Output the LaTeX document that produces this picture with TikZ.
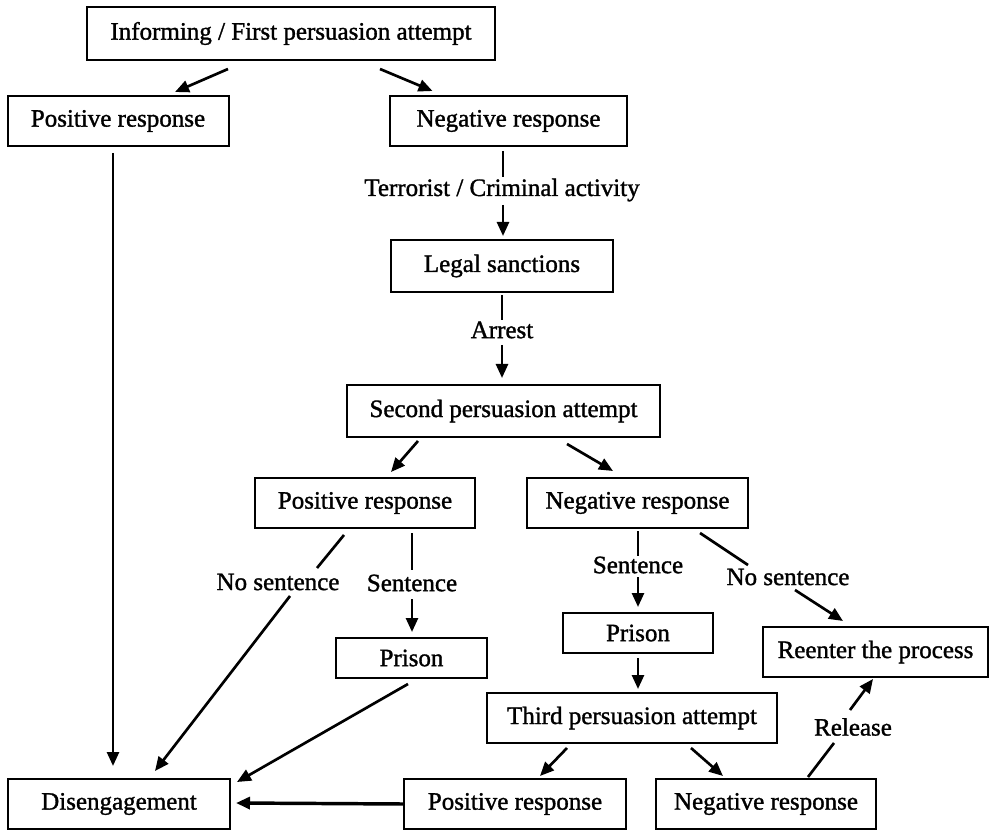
\documentclass[tikz,border=0pt]{standalone}
\usepackage{fontspec}
\setmainfont{Liberation Serif}
\newfontfamily\boxfont{Liberation Serif}[FakeBold=1.3]
\usetikzlibrary{calc,positioning,arrows.meta}

\begin{document}
\begin{tikzpicture}[x=0.75pt,y=-0.75pt]
\tikzstyle{box}=[rectangle, draw, line width=1.5pt, inner sep=0pt, font=\boxfont\fontsize{18.75}{22}\selectfont]
\tikzstyle{lbl}=[inner sep=1pt, font=\boxfont\fontsize{18.75}{22}\selectfont]
\tikzstyle{seg}=[line width=2pt]
\tikzstyle{arr}=[seg, -{Triangle[length=10.5pt,width=9pt]}]
\tikzset{wh/.style 2 args={minimum width=#1*0.75pt, minimum height=#2*0.75pt}}

\useasboundingbox (0,0) rectangle (989,830);

% boxes
\node[box, wh={408}{53}] (inform) at (291,33.5) {Informing / First persuasion attempt};
\node[box, wh={221}{50}] (pos1) at (118,121) {Positive response};
\node[box, wh={237}{50}] (neg1) at (508.5,121) {Negative response};
\node[box, wh={222}{52}] (legal) at (502,266) {Legal sanctions};
\node[box, wh={313}{52}] (second) at (503.5,411) {Second persuasion attempt};
\node[box, wh={220}{50}] (pos2) at (365,503) {Positive response};
\node[box, wh={221}{50}] (neg2) at (637.5,503) {Negative response};
\node[box, wh={151}{40}] (prison1) at (411.5,658) {Prison};
\node[box, wh={150}{40}] (prison2) at (638,633) {Prison};
\node[box, wh={225}{50}] (reenter) at (875.5,652) {Reenter the process};
\node[box, wh={290}{50}] (third) at (632,718) {Third persuasion attempt};
\node[box, wh={222}{50}] (diseng) at (119,804) {Disengagement};
\node[box, wh={222}{50}] (pos3) at (515,804) {Positive response};
\node[box, wh={220}{50}] (neg3) at (766,804) {Negative response};

% labels
\node[lbl] (terr) at (502,190) {Terrorist / Criminal activity};
\node[lbl] (arrest) at (502,330) {Arrest};
\node[lbl] (nosent1) at (278,582) {No sentence};
\node[lbl] (sent1) at (412,583) {Sentence};
\node[lbl] (sent2) at (638,565) {Sentence};
\node[lbl] (nosent2) at (788,577) {No sentence};
\node[lbl] (release) at (853,727) {Release};

% first level
\draw[arr] ($(inform.south)+(-63,8)$) -- ($(pos1.north)+(57,-3)$);
\draw[arr] ($(inform.south)+(89,8)$) -- ($(neg1.north)+(-76,-4)$);
\draw[arr] ($(pos1.south)+(-5,6)$) -- ($(diseng.north)+(-6,-12)$);
\draw[seg] ($(neg1.south)+(-5.5,4)$) -- ($(terr)+(1,-13)$);
\draw[arr] ($(terr)+(1,15)$) -- ($(legal.north)+(1,-3)$);
\draw[seg] ($(legal.south)+(0,2)$) -- ($(arrest)+(0,-10)$);
\draw[arr] ($(arrest)+(0,15)$) -- ($(second.north)+(-1.5,-6)$);
\draw[arr] ($(second.south)+(-85.5,3)$) -- ($(pos2.north)+(26,-5)$);
\draw[arr] ($(second.south)+(63.5,6)$) -- ($(neg2.north)+(-24.5,-6)$);

% after second attempt
\draw[seg] ($(pos2.south)+(-21,6)$) -- ($(nosent1)+(39,-14)$);
\draw[arr] ($(nosent1)+(12,14)$) -- ($(diseng.north)+(36,-7)$);
\draw[seg] ($(pos2.south)+(47,4)$) -- ($(sent1)+(0,-13)$);
\draw[arr] ($(sent1)+(0,16)$) -- ($(prison1.north)+(0.5,-5)$);
\draw[arr] ($(prison1.south)+(-3.5,5)$) -- ($(diseng.north east)+(6,4)$);
\draw[seg] ($(neg2.south)+(0.5,2)$) -- ($(sent2)+(0,-9)$);
\draw[arr] ($(sent2)+(0,12)$) -- ($(prison2.north)+(0,-5)$);
\draw[seg] ($(neg2.south)+(62.5,4)$) -- ($(nosent2)+(-40,-12)$);
\draw[arr] ($(nosent2)+(7,13)$) -- ($(reenter.north)+(-32.5,-5)$);
\draw[arr] ($(prison2.south)+(0,4)$) -- ($(third.north)+(6,-3)$);

% third attempt
\draw[arr] ($(third.south)+(-65,4)$) -- ($(pos3.north)+(25,-2)$);
\draw[arr] ($(third.south)+(59,4)$) -- ($(neg3.north)+(-43,-2)$);
\draw[arr, line width=2.6pt] (pos3.west) -- ($(diseng.east)+(5,-1)$);
\draw[seg] ($(neg3.north)+(42,-1)$) -- ($(release)+(-19,16)$);
\draw[arr] ($(release)+(-3,-17)$) -- ($(reenter.south)+(-2.5,1)$);
\end{tikzpicture}
\end{document}
